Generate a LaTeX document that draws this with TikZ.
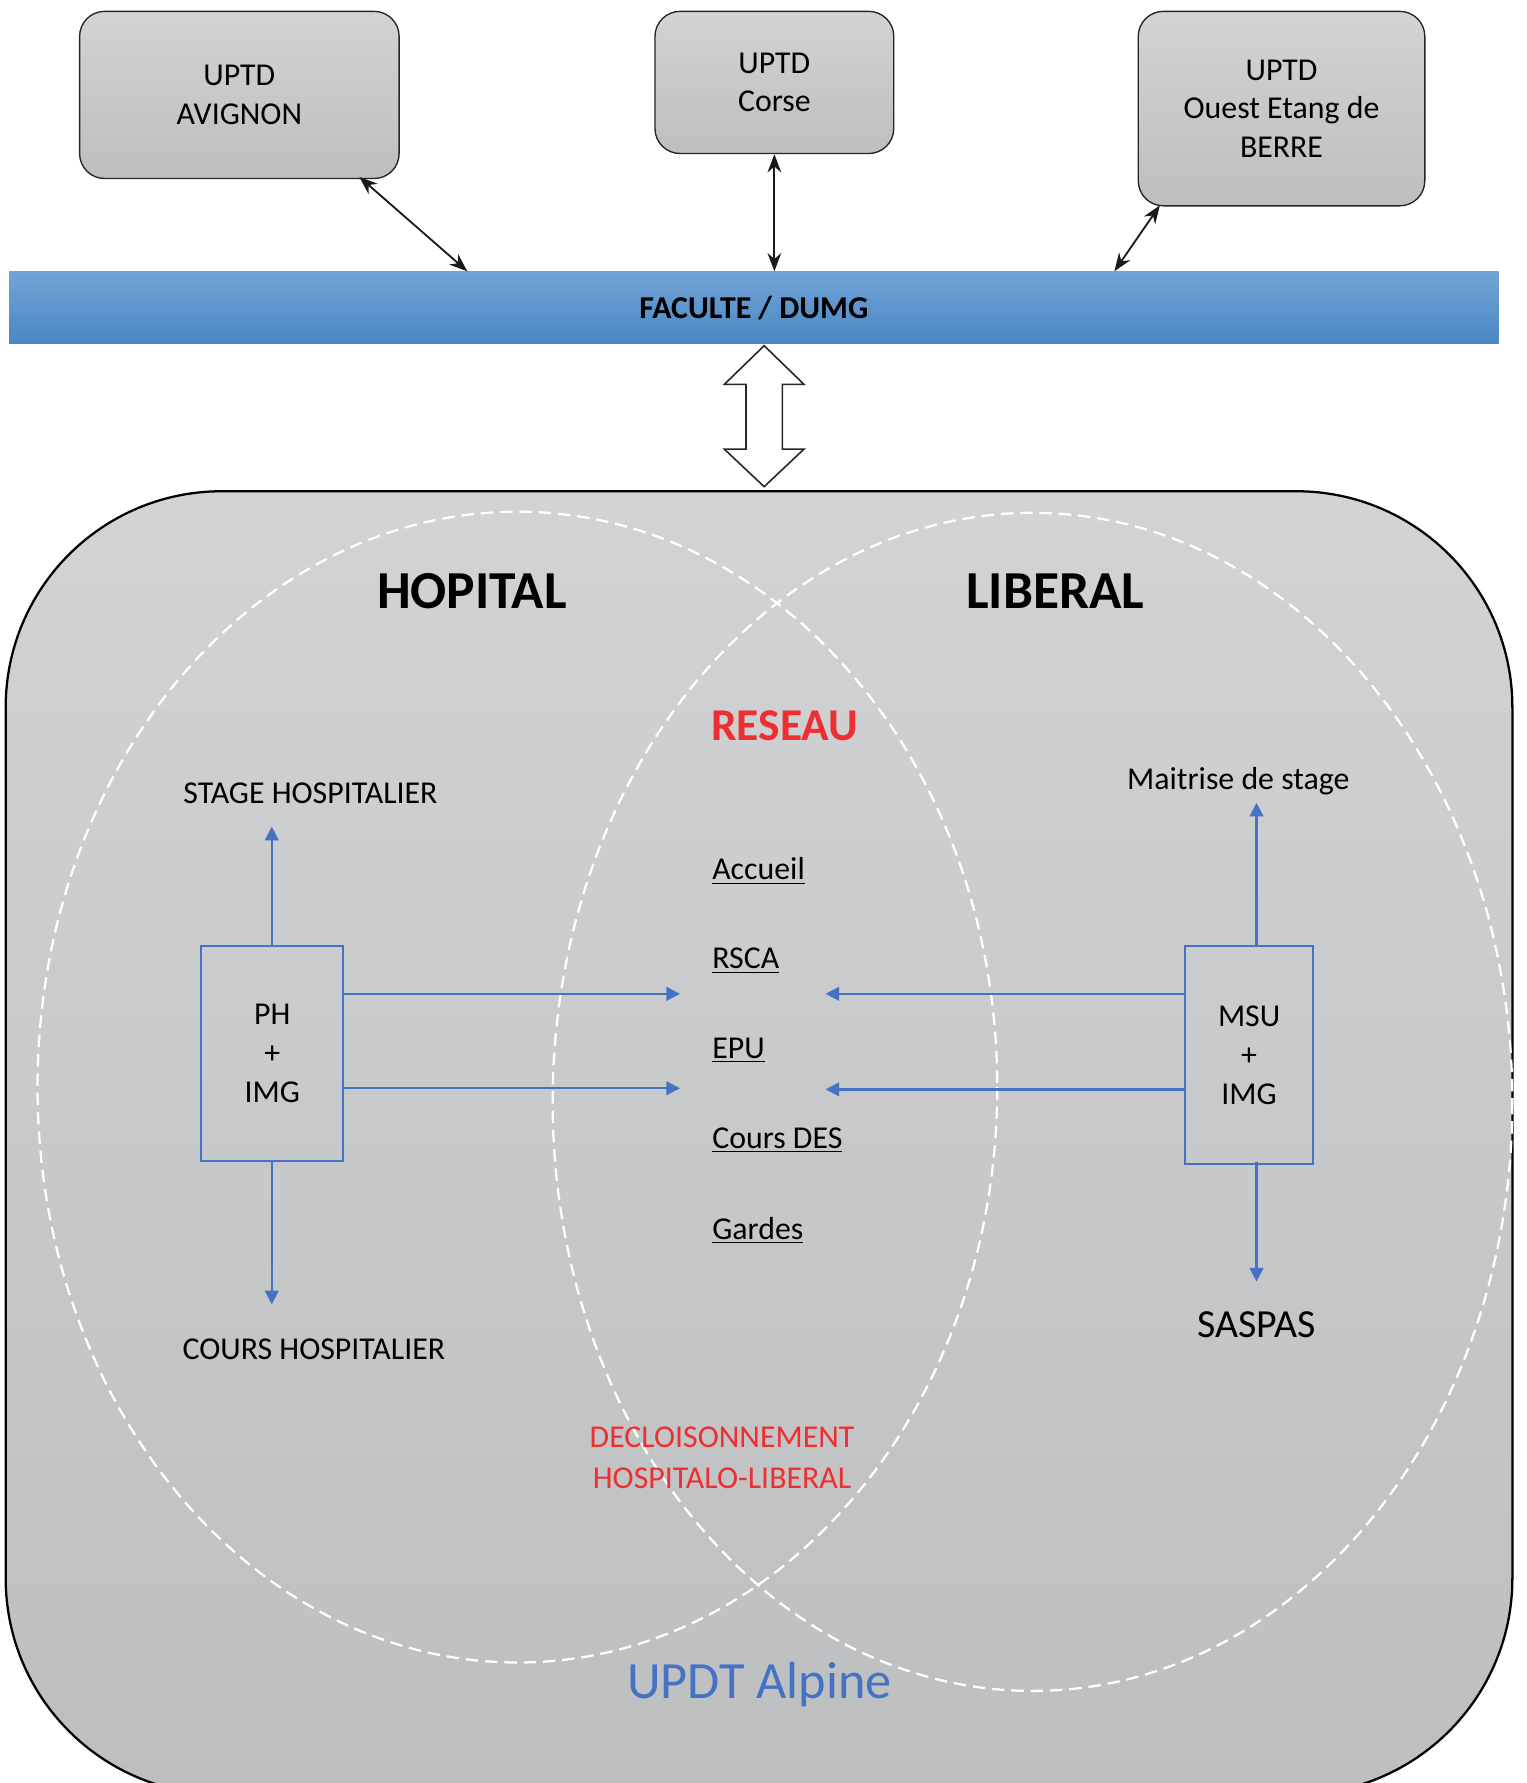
\documentclass[tikz,border=0pt]{standalone}
\usepackage{fontspec}
\setmainfont{Carlito}
\usetikzlibrary{arrows.meta}

\definecolor{boxtop}{HTML}{D2D3D5}
\definecolor{boxbot}{HTML}{BDBEC0}
\definecolor{bartop}{HTML}{72A3D7}
\definecolor{barbot}{HTML}{4A87C2}
\definecolor{linkblue}{HTML}{4472C4}
\definecolor{reseaured}{HTML}{EE2E31}

\tikzset{
  uptd/.style={draw=black!85, line width=0.6pt, rounded corners=11pt,
    top color=boxtop, bottom color=boxbot, align=center, inner sep=0pt,
    font=\fontsize{14}{17}\selectfont},
  faculte/.style={top color=bartop, bottom color=barbot, inner sep=0pt,
    font=\fontsize{14}{17}\selectfont\bfseries},
  zone/.style={draw=black, line width=1pt, rounded corners=95pt,
    top color=boxtop, bottom color=boxbot, inner sep=0pt},
  venn/.style={draw=white, line width=1pt, dash pattern=on 5.5pt off 3pt},
  acteur/.style={draw=linkblue, line width=0.9pt, align=center, inner sep=0pt,
    font=\fontsize{14}{17.25}\selectfont},
  lien/.style={black!90, line width=0.8pt, {Stealth[length=8pt,width=6pt]}-{Stealth[length=8pt,width=6pt]}},
  fleche/.style={linkblue, line width=1pt, -{Triangle[length=6pt,width=6pt]}},
  titre/.style={font=\fontsize{23.5}{28}\selectfont\bfseries},
  label/.style={font=\fontsize{14}{17}\selectfont},
  item/.style={anchor=west, inner sep=0pt, font=\fontsize{14}{17}\selectfont},
}

\begin{document}
\begin{tikzpicture}[x=0.5pt,y=-0.5pt]
\useasboundingbox (0,0) rectangle (1342,1568);

% UPTD
\node[uptd, minimum width=140.5pt, minimum height=73.5pt] (avignon) at (210.5,83.5) {UPTD\\AVIGNON};
\node[uptd, minimum width=105pt, minimum height=62.5pt] (corse) at (681,72.5) {UPTD\\Corse};
\node[uptd, minimum width=126pt, minimum height=85.5pt] (berre) at (1127,95.5) {UPTD\\Ouest Etang de\\BERRE};

% faculte
\node[faculte, minimum width=655pt, minimum height=31.5pt] (faculte) at (663,270.5) {FACULTE / DUMG};

\draw[lien] (avignon.south east -| 316,0) ++(0,-2) -- (faculte.north -| 411,0);
\draw[lien] (corse.south) -- (faculte.north -| corse.south);
\draw[lien] (berre.south west -| 1020,0) ++(0,-1) -- (faculte.north -| 980,0);

% zone alpine
\node[zone, minimum width=662.5pt, minimum height=573pt] (alpine) at (667.5,1005) {};

% fleche creuse
\draw[black!85, line width=0.7pt, fill=white]
  (672,304) -- (707,338) -- (688,338) -- (688,395) -- (707,395) -- (672,428)
  -- (637,395) -- (656,395) -- (656,338) -- (637,338) -- cycle;

% ensembles
\draw[venn] (455,956) ellipse [x radius=422, y radius=506];
\draw[venn] (908,969) ellipse [x radius=422, y radius=518];

\node[titre] (hopital) at (415,520) {HOPITAL};
\node[titre] (liberal) at (928,520) {LIBERAL};
\node[font=\fontsize{20}{24}\selectfont\bfseries, text=reseaured] (reseau) at (690,638) {RESEAU};

% reseau
\node[item] (accueil) at (626,766) {\underline{Accueil}};
\node[item] (rsca) at (626,845) {\underline{RSCA}};
\node[item] (epu) at (626,924) {\underline{EPU}};
\node[item] (coursdes) at (626,1003) {\underline{Cours DES}};
\node[item] (gardes) at (626,1082) {\underline{Gardes}};

% hopital
\node[acteur, minimum width=62.5pt, minimum height=94.5pt] (ph) at (239.5,926.5) {PH\\+\\IMG};
\node[label] (stage) at (273,698) {STAGE HOSPITALIER};
\node[label] (courshosp) at (276,1187) {COURS HOSPITALIER};
\coordinate (stagebas) at (239,727);
\coordinate (coursbas) at (239,1147);
\draw[fleche] (ph.north -| stagebas) -- (stagebas);
\draw[fleche] (ph.south -| coursbas) -- (coursbas);

% liberal
\node[acteur, minimum width=56.5pt, minimum height=96pt] (msu) at (1098.5,928) {MSU\\+\\IMG};
\node[label] (maitrise) at (1089,687) {Maitrise de stage};
\node[font=\fontsize{17.5}{21}\selectfont] (saspas) at (1105,1165) {SASPAS};
\coordinate (maitrisebas) at (1105,706);
\coordinate (saspashaut) at (1105,1127);
\draw[fleche] (msu.north -| maitrisebas) -- (maitrisebas);
\draw[fleche] (msu.south -| saspashaut) ++(0,-3) -- (saspashaut);

% liens vers le reseau
\coordinate (gauchehaut) at (598,874);
\coordinate (gauchebas) at (598,957);
\coordinate (droitehaut) at (726,874);
\coordinate (droitebas) at (726,958);
\draw[fleche] (ph.east |- gauchehaut) -- (gauchehaut);
\draw[fleche] (ph.east |- gauchebas) -- (gauchebas);
\draw[fleche] (msu.west |- droitehaut) -- (droitehaut);
\draw[fleche] (msu.west |- droitebas) -- (droitebas);

\node[align=center, text=reseaured, font=\fontsize{14}{18}\selectfont] (decloison) at (635,1282) {DECLOISONNEMENT\\HOSPITALO-LIBERAL};
\node[text=linkblue, font=\fontsize{23}{28}\selectfont] (updt) at (668,1481) {UPDT Alpine};
\end{tikzpicture}
\end{document}
